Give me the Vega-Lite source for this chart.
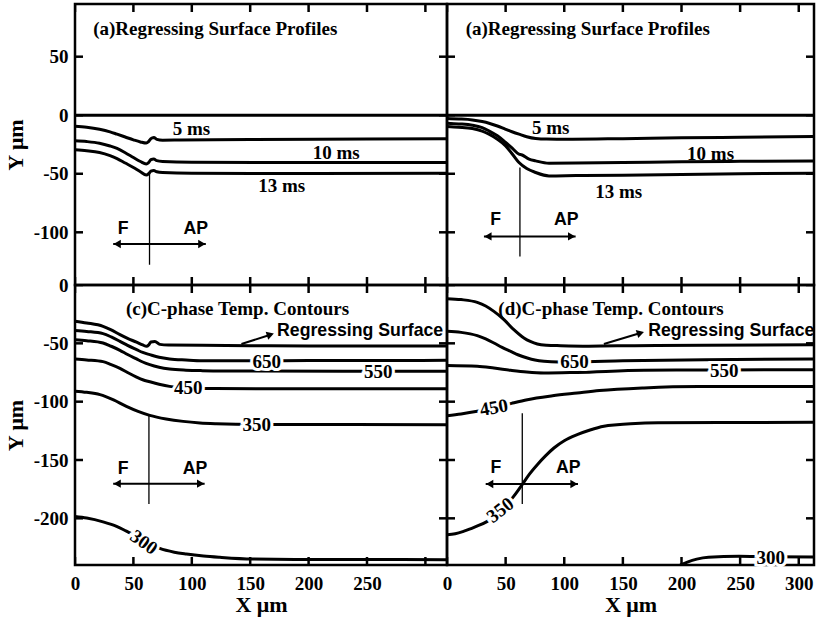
{
  "$schema": "https://vega.github.io/schema/vega-lite/v6.json",
  "background": "white",
  "padding": {"left": 2, "top": 2, "right": 0, "bottom": 0},
  "config": {
    "view": {"stroke": "black", "strokeWidth": 2.5},
    "concat": {"spacing": 0},
    "axis": {
      "domain": false,
      "grid": false,
      "ticks": false,
      "minExtent": 0,
      "labelFont": "Liberation Serif",
      "labelFontSize": 19,
      "labelFontWeight": "bold",
      "labelColor": "black",
      "labelPadding": 7,
      "labelFlush": false,
      "labelOverlap": false,
      "titleFont": "Liberation Serif",
      "titleFontSize": 22,
      "titleFontWeight": "bold",
      "titleColor": "black",
      "titlePadding": 6
    },
    "axisBottom": {"labelPadding": 9, "titlePadding": 1},
    "text": {"font": "Liberation Serif", "fontWeight": "bold", "fontSize": 19, "color": "black"},
    "tick": {"color": "black", "opacity": 1, "thickness": 2.5, "size": 16}
  },
  "datasets": {
    "curves": [
      {"panel": "a", "curve": "surface", "x": 0, "y": 0},
      {"panel": "a", "curve": "surface", "x": 318.5, "y": 0},
      {"panel": "a", "curve": "5 ms", "x": 0, "y": -9.5},
      {"panel": "a", "curve": "5 ms", "x": 10, "y": -10.3},
      {"panel": "a", "curve": "5 ms", "x": 21, "y": -12},
      {"panel": "a", "curve": "5 ms", "x": 30, "y": -14.2},
      {"panel": "a", "curve": "5 ms", "x": 36, "y": -16.2},
      {"panel": "a", "curve": "5 ms", "x": 43, "y": -18.6},
      {"panel": "a", "curve": "5 ms", "x": 50, "y": -21},
      {"panel": "a", "curve": "5 ms", "x": 56, "y": -22.8},
      {"panel": "a", "curve": "5 ms", "x": 61, "y": -23.8},
      {"panel": "a", "curve": "5 ms", "x": 63, "y": -22.5},
      {"panel": "a", "curve": "5 ms", "x": 65, "y": -20},
      {"panel": "a", "curve": "5 ms", "x": 67.5, "y": -19},
      {"panel": "a", "curve": "5 ms", "x": 70, "y": -20.6},
      {"panel": "a", "curve": "5 ms", "x": 75, "y": -21.3},
      {"panel": "a", "curve": "5 ms", "x": 90, "y": -21.2},
      {"panel": "a", "curve": "5 ms", "x": 150, "y": -20.8},
      {"panel": "a", "curve": "5 ms", "x": 250, "y": -20.3},
      {"panel": "a", "curve": "5 ms", "x": 318.5, "y": -20},
      {"panel": "a", "curve": "10 ms", "x": 0, "y": -21.9},
      {"panel": "a", "curve": "10 ms", "x": 10, "y": -22.5},
      {"panel": "a", "curve": "10 ms", "x": 21, "y": -23.9},
      {"panel": "a", "curve": "10 ms", "x": 30, "y": -26.3},
      {"panel": "a", "curve": "10 ms", "x": 36, "y": -28.4},
      {"panel": "a", "curve": "10 ms", "x": 43, "y": -32},
      {"panel": "a", "curve": "10 ms", "x": 50, "y": -36.1},
      {"panel": "a", "curve": "10 ms", "x": 56, "y": -39.5},
      {"panel": "a", "curve": "10 ms", "x": 61, "y": -41.6},
      {"panel": "a", "curve": "10 ms", "x": 63, "y": -40.5},
      {"panel": "a", "curve": "10 ms", "x": 65, "y": -38},
      {"panel": "a", "curve": "10 ms", "x": 67.5, "y": -37.4},
      {"panel": "a", "curve": "10 ms", "x": 70, "y": -38.8},
      {"panel": "a", "curve": "10 ms", "x": 75, "y": -39.5},
      {"panel": "a", "curve": "10 ms", "x": 100, "y": -40.2},
      {"panel": "a", "curve": "10 ms", "x": 200, "y": -40.4},
      {"panel": "a", "curve": "10 ms", "x": 318.5, "y": -40.4},
      {"panel": "a", "curve": "13 ms", "x": 0, "y": -29.5},
      {"panel": "a", "curve": "13 ms", "x": 10, "y": -30.3},
      {"panel": "a", "curve": "13 ms", "x": 21, "y": -31.8},
      {"panel": "a", "curve": "13 ms", "x": 30, "y": -34.5},
      {"panel": "a", "curve": "13 ms", "x": 36, "y": -37},
      {"panel": "a", "curve": "13 ms", "x": 43, "y": -40.8},
      {"panel": "a", "curve": "13 ms", "x": 50, "y": -44.6},
      {"panel": "a", "curve": "13 ms", "x": 56, "y": -48.3},
      {"panel": "a", "curve": "13 ms", "x": 61, "y": -51},
      {"panel": "a", "curve": "13 ms", "x": 63, "y": -50},
      {"panel": "a", "curve": "13 ms", "x": 65, "y": -47.8},
      {"panel": "a", "curve": "13 ms", "x": 67.5, "y": -47.2},
      {"panel": "a", "curve": "13 ms", "x": 70, "y": -48.3},
      {"panel": "a", "curve": "13 ms", "x": 75, "y": -49},
      {"panel": "a", "curve": "13 ms", "x": 100, "y": -49.6},
      {"panel": "a", "curve": "13 ms", "x": 200, "y": -49.7},
      {"panel": "a", "curve": "13 ms", "x": 318.5, "y": -49.5},

      {"panel": "b", "curve": "surface", "x": 0, "y": 0},
      {"panel": "b", "curve": "surface", "x": 313, "y": 0},
      {"panel": "b", "curve": "5 ms", "x": 0, "y": -2.8},
      {"panel": "b", "curve": "5 ms", "x": 10, "y": -3.2},
      {"panel": "b", "curve": "5 ms", "x": 21.6, "y": -4},
      {"panel": "b", "curve": "5 ms", "x": 30, "y": -5.4},
      {"panel": "b", "curve": "5 ms", "x": 35.8, "y": -6.8},
      {"panel": "b", "curve": "5 ms", "x": 43, "y": -9.2},
      {"panel": "b", "curve": "5 ms", "x": 50, "y": -12},
      {"panel": "b", "curve": "5 ms", "x": 56, "y": -14.3},
      {"panel": "b", "curve": "5 ms", "x": 61.4, "y": -16.2},
      {"panel": "b", "curve": "5 ms", "x": 68, "y": -18.4},
      {"panel": "b", "curve": "5 ms", "x": 75.6, "y": -19.9},
      {"panel": "b", "curve": "5 ms", "x": 85, "y": -20.4},
      {"panel": "b", "curve": "5 ms", "x": 107, "y": -20.5},
      {"panel": "b", "curve": "5 ms", "x": 150, "y": -20},
      {"panel": "b", "curve": "5 ms", "x": 200, "y": -19.3},
      {"panel": "b", "curve": "5 ms", "x": 250, "y": -18.8},
      {"panel": "b", "curve": "5 ms", "x": 313, "y": -18.2},
      {"panel": "b", "curve": "10 ms", "x": 0, "y": -6.8},
      {"panel": "b", "curve": "10 ms", "x": 10, "y": -7.4},
      {"panel": "b", "curve": "10 ms", "x": 21.6, "y": -8.5},
      {"panel": "b", "curve": "10 ms", "x": 30, "y": -10.6},
      {"panel": "b", "curve": "10 ms", "x": 35.8, "y": -13.4},
      {"panel": "b", "curve": "10 ms", "x": 43, "y": -17.6},
      {"panel": "b", "curve": "10 ms", "x": 50, "y": -23.3},
      {"panel": "b", "curve": "10 ms", "x": 56, "y": -28.5},
      {"panel": "b", "curve": "10 ms", "x": 61.4, "y": -33.3},
      {"panel": "b", "curve": "10 ms", "x": 63.5, "y": -33.8},
      {"panel": "b", "curve": "10 ms", "x": 70, "y": -37.5},
      {"panel": "b", "curve": "10 ms", "x": 75.6, "y": -39},
      {"panel": "b", "curve": "10 ms", "x": 87, "y": -41},
      {"panel": "b", "curve": "10 ms", "x": 110, "y": -40.8},
      {"panel": "b", "curve": "10 ms", "x": 150, "y": -40.4},
      {"panel": "b", "curve": "10 ms", "x": 200, "y": -39.8},
      {"panel": "b", "curve": "10 ms", "x": 250, "y": -39.4},
      {"panel": "b", "curve": "10 ms", "x": 313, "y": -39},
      {"panel": "b", "curve": "13 ms", "x": 0, "y": -9.7},
      {"panel": "b", "curve": "13 ms", "x": 10, "y": -10.3},
      {"panel": "b", "curve": "13 ms", "x": 21.6, "y": -11.4},
      {"panel": "b", "curve": "13 ms", "x": 30, "y": -13.6},
      {"panel": "b", "curve": "13 ms", "x": 35.8, "y": -16.2},
      {"panel": "b", "curve": "13 ms", "x": 43, "y": -20.5},
      {"panel": "b", "curve": "13 ms", "x": 50, "y": -26.2},
      {"panel": "b", "curve": "13 ms", "x": 56, "y": -33.5},
      {"panel": "b", "curve": "13 ms", "x": 61.4, "y": -40.4},
      {"panel": "b", "curve": "13 ms", "x": 68, "y": -45.5},
      {"panel": "b", "curve": "13 ms", "x": 75.6, "y": -48.9},
      {"panel": "b", "curve": "13 ms", "x": 87, "y": -51.8},
      {"panel": "b", "curve": "13 ms", "x": 110, "y": -51.5},
      {"panel": "b", "curve": "13 ms", "x": 150, "y": -51.2},
      {"panel": "b", "curve": "13 ms", "x": 200, "y": -50.6},
      {"panel": "b", "curve": "13 ms", "x": 250, "y": -50},
      {"panel": "b", "curve": "13 ms", "x": 313, "y": -49.5},

      {"panel": "c", "curve": "surface", "x": 0, "y": -31},
      {"panel": "c", "curve": "surface", "x": 10, "y": -32.5},
      {"panel": "c", "curve": "surface", "x": 24, "y": -35.4},
      {"panel": "c", "curve": "surface", "x": 31, "y": -38.5},
      {"panel": "c", "curve": "surface", "x": 38.5, "y": -42.6},
      {"panel": "c", "curve": "surface", "x": 45, "y": -45.8},
      {"panel": "c", "curve": "surface", "x": 52.7, "y": -49},
      {"panel": "c", "curve": "surface", "x": 58, "y": -51.4},
      {"panel": "c", "curve": "surface", "x": 61.3, "y": -52.6},
      {"panel": "c", "curve": "surface", "x": 63.2, "y": -51.3},
      {"panel": "c", "curve": "surface", "x": 65, "y": -48.9},
      {"panel": "c", "curve": "surface", "x": 68.4, "y": -48.4},
      {"panel": "c", "curve": "surface", "x": 72.6, "y": -50.9},
      {"panel": "c", "curve": "surface", "x": 80, "y": -51.4},
      {"panel": "c", "curve": "surface", "x": 109, "y": -51.6},
      {"panel": "c", "curve": "surface", "x": 150, "y": -52},
      {"panel": "c", "curve": "surface", "x": 200, "y": -52.2},
      {"panel": "c", "curve": "surface", "x": 318.5, "y": -52.2},
      {"panel": "c", "curve": "650", "x": 0, "y": -38.9},
      {"panel": "c", "curve": "650", "x": 10, "y": -39.8},
      {"panel": "c", "curve": "650", "x": 24, "y": -41.7},
      {"panel": "c", "curve": "650", "x": 31, "y": -44.5},
      {"panel": "c", "curve": "650", "x": 38.5, "y": -48.3},
      {"panel": "c", "curve": "650", "x": 45, "y": -51.8},
      {"panel": "c", "curve": "650", "x": 52.7, "y": -55.4},
      {"panel": "c", "curve": "650", "x": 58, "y": -57.8},
      {"panel": "c", "curve": "650", "x": 64, "y": -59.7},
      {"panel": "c", "curve": "650", "x": 72, "y": -62},
      {"panel": "c", "curve": "650", "x": 81, "y": -63.4},
      {"panel": "c", "curve": "650", "x": 95, "y": -64.3},
      {"panel": "c", "curve": "650", "x": 109, "y": -64.9},
      {"panel": "c", "curve": "650", "x": 150, "y": -65},
      {"panel": "c", "curve": "650", "x": 200, "y": -64.8},
      {"panel": "c", "curve": "650", "x": 318.5, "y": -64.6},
      {"panel": "c", "curve": "550", "x": 0, "y": -46.9},
      {"panel": "c", "curve": "550", "x": 10, "y": -47.7},
      {"panel": "c", "curve": "550", "x": 24, "y": -49.7},
      {"panel": "c", "curve": "550", "x": 31, "y": -52.5},
      {"panel": "c", "curve": "550", "x": 38.5, "y": -56},
      {"panel": "c", "curve": "550", "x": 45, "y": -59.6},
      {"panel": "c", "curve": "550", "x": 52.7, "y": -63.4},
      {"panel": "c", "curve": "550", "x": 58, "y": -66},
      {"panel": "c", "curve": "550", "x": 64, "y": -68.3},
      {"panel": "c", "curve": "550", "x": 72, "y": -70.5},
      {"panel": "c", "curve": "550", "x": 81, "y": -72},
      {"panel": "c", "curve": "550", "x": 95, "y": -73},
      {"panel": "c", "curve": "550", "x": 109, "y": -73.4},
      {"panel": "c", "curve": "550", "x": 150, "y": -73.8},
      {"panel": "c", "curve": "550", "x": 318.5, "y": -74},
      {"panel": "c", "curve": "450", "x": 0, "y": -63.4},
      {"panel": "c", "curve": "450", "x": 10, "y": -64.2},
      {"panel": "c", "curve": "450", "x": 24, "y": -65.7},
      {"panel": "c", "curve": "450", "x": 31, "y": -68.2},
      {"panel": "c", "curve": "450", "x": 38.5, "y": -71.4},
      {"panel": "c", "curve": "450", "x": 45, "y": -75},
      {"panel": "c", "curve": "450", "x": 52.7, "y": -78.9},
      {"panel": "c", "curve": "450", "x": 58, "y": -81.2},
      {"panel": "c", "curve": "450", "x": 64, "y": -82.9},
      {"panel": "c", "curve": "450", "x": 72, "y": -85},
      {"panel": "c", "curve": "450", "x": 81, "y": -86.9},
      {"panel": "c", "curve": "450", "x": 97, "y": -88.3},
      {"panel": "c", "curve": "450", "x": 120, "y": -88.8},
      {"panel": "c", "curve": "450", "x": 318.5, "y": -89},
      {"panel": "c", "curve": "350", "x": 0, "y": -91},
      {"panel": "c", "curve": "350", "x": 10, "y": -92},
      {"panel": "c", "curve": "350", "x": 21.4, "y": -94},
      {"panel": "c", "curve": "350", "x": 33, "y": -98.5},
      {"panel": "c", "curve": "350", "x": 44, "y": -104},
      {"panel": "c", "curve": "350", "x": 54, "y": -108.3},
      {"panel": "c", "curve": "350", "x": 64, "y": -111.7},
      {"panel": "c", "curve": "350", "x": 78, "y": -114.8},
      {"panel": "c", "curve": "350", "x": 92.6, "y": -116.9},
      {"panel": "c", "curve": "350", "x": 107, "y": -118.2},
      {"panel": "c", "curve": "350", "x": 121, "y": -118.9},
      {"panel": "c", "curve": "350", "x": 155, "y": -119.6},
      {"panel": "c", "curve": "350", "x": 318.5, "y": -119.7},
      {"panel": "c", "curve": "300", "x": 0, "y": -198.5},
      {"panel": "c", "curve": "300", "x": 10, "y": -199.8},
      {"panel": "c", "curve": "300", "x": 24, "y": -203},
      {"panel": "c", "curve": "300", "x": 35.6, "y": -206.8},
      {"panel": "c", "curve": "300", "x": 44, "y": -211},
      {"panel": "c", "curve": "300", "x": 50, "y": -214},
      {"panel": "c", "curve": "300", "x": 59, "y": -219.5},
      {"panel": "c", "curve": "300", "x": 66, "y": -223},
      {"panel": "c", "curve": "300", "x": 72.6, "y": -225.8},
      {"panel": "c", "curve": "300", "x": 85, "y": -229},
      {"panel": "c", "curve": "300", "x": 95.4, "y": -230.6},
      {"panel": "c", "curve": "300", "x": 110, "y": -232.3},
      {"panel": "c", "curve": "300", "x": 124, "y": -233.4},
      {"panel": "c", "curve": "300", "x": 152, "y": -234.9},
      {"panel": "c", "curve": "300", "x": 200, "y": -235.3},
      {"panel": "c", "curve": "300", "x": 318.5, "y": -235.4},

      {"panel": "d", "curve": "surface", "x": 0, "y": -11.7},
      {"panel": "d", "curve": "surface", "x": 12, "y": -12.5},
      {"panel": "d", "curve": "surface", "x": 25.8, "y": -14.9},
      {"panel": "d", "curve": "surface", "x": 33, "y": -18},
      {"panel": "d", "curve": "surface", "x": 40, "y": -22.6},
      {"panel": "d", "curve": "surface", "x": 48.6, "y": -29.7},
      {"panel": "d", "curve": "surface", "x": 57, "y": -38.3},
      {"panel": "d", "curve": "surface", "x": 65.6, "y": -45.4},
      {"panel": "d", "curve": "surface", "x": 71, "y": -48.4},
      {"panel": "d", "curve": "surface", "x": 77, "y": -50.6},
      {"panel": "d", "curve": "surface", "x": 85, "y": -51.6},
      {"panel": "d", "curve": "surface", "x": 97, "y": -52},
      {"panel": "d", "curve": "surface", "x": 121, "y": -52.4},
      {"panel": "d", "curve": "surface", "x": 160, "y": -52},
      {"panel": "d", "curve": "surface", "x": 220, "y": -51.6},
      {"panel": "d", "curve": "surface", "x": 313, "y": -51.3},
      {"panel": "d", "curve": "650", "x": 0, "y": -39.7},
      {"panel": "d", "curve": "650", "x": 12, "y": -40.6},
      {"panel": "d", "curve": "650", "x": 25.8, "y": -43.4},
      {"panel": "d", "curve": "650", "x": 33, "y": -46.2},
      {"panel": "d", "curve": "650", "x": 40, "y": -49.7},
      {"panel": "d", "curve": "650", "x": 47, "y": -53.5},
      {"panel": "d", "curve": "650", "x": 54.3, "y": -56.9},
      {"panel": "d", "curve": "650", "x": 61, "y": -60},
      {"panel": "d", "curve": "650", "x": 68.5, "y": -62.6},
      {"panel": "d", "curve": "650", "x": 75, "y": -64.3},
      {"panel": "d", "curve": "650", "x": 82.7, "y": -65.4},
      {"panel": "d", "curve": "650", "x": 95, "y": -66},
      {"panel": "d", "curve": "650", "x": 108, "y": -66},
      {"panel": "d", "curve": "650", "x": 150, "y": -65},
      {"panel": "d", "curve": "650", "x": 220, "y": -64},
      {"panel": "d", "curve": "650", "x": 313, "y": -63.4},
      {"panel": "d", "curve": "550", "x": 0, "y": -69.1},
      {"panel": "d", "curve": "550", "x": 25.8, "y": -69.7},
      {"panel": "d", "curve": "550", "x": 40, "y": -71.2},
      {"panel": "d", "curve": "550", "x": 54.3, "y": -73.1},
      {"panel": "d", "curve": "550", "x": 68, "y": -74.6},
      {"panel": "d", "curve": "550", "x": 82.7, "y": -75.4},
      {"panel": "d", "curve": "550", "x": 111, "y": -74.9},
      {"panel": "d", "curve": "550", "x": 168, "y": -73.1},
      {"panel": "d", "curve": "550", "x": 236, "y": -72.8},
      {"panel": "d", "curve": "550", "x": 313, "y": -72.6},
      {"panel": "d", "curve": "450", "x": 0, "y": -112},
      {"panel": "d", "curve": "450", "x": 12, "y": -110.5},
      {"panel": "d", "curve": "450", "x": 25.8, "y": -108.3},
      {"panel": "d", "curve": "450", "x": 40, "y": -105.4},
      {"panel": "d", "curve": "450", "x": 55, "y": -101.5},
      {"panel": "d", "curve": "450", "x": 68.5, "y": -98.3},
      {"panel": "d", "curve": "450", "x": 90, "y": -95},
      {"panel": "d", "curve": "450", "x": 111, "y": -92.6},
      {"panel": "d", "curve": "450", "x": 130, "y": -90.5},
      {"panel": "d", "curve": "450", "x": 168, "y": -88.2},
      {"panel": "d", "curve": "450", "x": 215, "y": -87},
      {"panel": "d", "curve": "450", "x": 313, "y": -86.9},
      {"panel": "d", "curve": "350", "x": 0, "y": -214},
      {"panel": "d", "curve": "350", "x": 7, "y": -213.2},
      {"panel": "d", "curve": "350", "x": 14.5, "y": -211},
      {"panel": "d", "curve": "350", "x": 24, "y": -207.3},
      {"panel": "d", "curve": "350", "x": 34.4, "y": -202.6},
      {"panel": "d", "curve": "350", "x": 45.8, "y": -194},
      {"panel": "d", "curve": "350", "x": 57, "y": -181},
      {"panel": "d", "curve": "350", "x": 64.2, "y": -171},
      {"panel": "d", "curve": "350", "x": 70, "y": -162.5},
      {"panel": "d", "curve": "350", "x": 77, "y": -154},
      {"panel": "d", "curve": "350", "x": 84, "y": -146.5},
      {"panel": "d", "curve": "350", "x": 91.2, "y": -139.7},
      {"panel": "d", "curve": "350", "x": 100, "y": -133.5},
      {"panel": "d", "curve": "350", "x": 111, "y": -128.3},
      {"panel": "d", "curve": "350", "x": 122, "y": -124.3},
      {"panel": "d", "curve": "350", "x": 133.8, "y": -121.1},
      {"panel": "d", "curve": "350", "x": 145, "y": -119.8},
      {"panel": "d", "curve": "350", "x": 156.6, "y": -118.9},
      {"panel": "d", "curve": "350", "x": 180, "y": -118},
      {"panel": "d", "curve": "350", "x": 250, "y": -117.8},
      {"panel": "d", "curve": "350", "x": 313, "y": -117.7},
      {"panel": "d", "curve": "300", "x": 199, "y": -240},
      {"panel": "d", "curve": "300", "x": 205, "y": -237.5},
      {"panel": "d", "curve": "300", "x": 213, "y": -235},
      {"panel": "d", "curve": "300", "x": 223, "y": -233.4},
      {"panel": "d", "curve": "300", "x": 249, "y": -232.6},
      {"panel": "d", "curve": "300", "x": 276, "y": -233},
      {"panel": "d", "curve": "300", "x": 313, "y": -233.1}
    ],
    "xTicks": [
      {"panel": "a", "v": 0}, {"panel": "a", "v": 50}, {"panel": "a", "v": 100}, {"panel": "a", "v": 150}, {"panel": "a", "v": 200}, {"panel": "a", "v": 250}, {"panel": "a", "v": 300},
      {"panel": "b", "v": 0}, {"panel": "b", "v": 50}, {"panel": "b", "v": 100}, {"panel": "b", "v": 150}, {"panel": "b", "v": 200}, {"panel": "b", "v": 250}, {"panel": "b", "v": 300},
      {"panel": "c", "v": 0}, {"panel": "c", "v": 50}, {"panel": "c", "v": 100}, {"panel": "c", "v": 150}, {"panel": "c", "v": 200}, {"panel": "c", "v": 250}, {"panel": "c", "v": 300},
      {"panel": "d", "v": 0}, {"panel": "d", "v": 50}, {"panel": "d", "v": 100}, {"panel": "d", "v": 150}, {"panel": "d", "v": 200}, {"panel": "d", "v": 250}, {"panel": "d", "v": 300}
    ],
    "yTicks": [
      {"panel": "a", "v": 50}, {"panel": "a", "v": 0}, {"panel": "a", "v": -50}, {"panel": "a", "v": -100},
      {"panel": "b", "v": 50}, {"panel": "b", "v": 0}, {"panel": "b", "v": -50}, {"panel": "b", "v": -100},
      {"panel": "c", "v": 0}, {"panel": "c", "v": -50}, {"panel": "c", "v": -100}, {"panel": "c", "v": -150}, {"panel": "c", "v": -200},
      {"panel": "d", "v": 0}, {"panel": "d", "v": -50}, {"panel": "d", "v": -100}, {"panel": "d", "v": -150}, {"panel": "d", "v": -200}
    ],
    "titles": [
      {"panel": "a", "x": 15.6, "y": 74, "text": "(a)Regressing Surface Profiles"},
      {"panel": "b", "x": 15.9, "y": 74, "text": "(a)Regressing Surface Profiles"},
      {"panel": "c", "x": 43.6, "y": -20.3, "text": "(c)C-phase Temp. Contours"},
      {"panel": "d", "x": 43.8, "y": -20.3, "text": "(d)C-phase Temp. Contours"}
    ],
    "timeLabels": [
      {"panel": "a", "x": 99.7, "y": -12, "text": "5 ms"},
      {"panel": "a", "x": 223.7, "y": -32.2, "text": "10 ms"},
      {"panel": "a", "x": 177, "y": -60.7, "text": "13 ms"},
      {"panel": "b", "x": 88.4, "y": -10.5, "text": "5 ms"},
      {"panel": "b", "x": 224.8, "y": -33.3, "text": "10 ms"},
      {"panel": "b", "x": 146.4, "y": -65.3, "text": "13 ms"}
    ],
    "contourLabels": [
      {"panel": "c", "x": 164.2, "y": -65.6, "text": "650"},
      {"panel": "c", "x": 259.7, "y": -74.4, "text": "550"},
      {"panel": "c", "x": 96.9, "y": -88.4, "text": "450"},
      {"panel": "c", "x": 155.6, "y": -120, "text": "350"},
      {"panel": "d", "x": 108.8, "y": -66.3, "text": "650"},
      {"panel": "d", "x": 236.4, "y": -73.6, "text": "550"},
      {"panel": "d", "x": 276.2, "y": -233.6, "text": "300"}
    ],
    "tiltedLabels": [
      {"panel": "c", "x": 59, "y": -220.5, "text": "300"},
      {"panel": "d", "x": 40, "y": -105.2, "text": "450"},
      {"panel": "d", "x": 45.5, "y": -193, "text": "350"}
    ],
    "directionLabels": [
      {"panel": "a", "x": 41.3, "y": -96.8, "text": "F"},
      {"panel": "a", "x": 103.4, "y": -96.8, "text": "AP"},
      {"panel": "b", "x": 41.5, "y": -89.3, "text": "F"},
      {"panel": "b", "x": 101.7, "y": -89.3, "text": "AP"},
      {"panel": "c", "x": 41.3, "y": -157.4, "text": "F"},
      {"panel": "c", "x": 102.8, "y": -157.4, "text": "AP"},
      {"panel": "d", "x": 41.8, "y": -157.1, "text": "F"},
      {"panel": "d", "x": 103.4, "y": -157.1, "text": "AP"}
    ],
    "surfaceLabels": [
      {"panel": "c", "x": 173, "y": -39.7, "text": "Regressing Surface"},
      {"panel": "d", "x": 171.6, "y": -39.7, "text": "Regressing Surface"}
    ],
    "guides": [
      {"panel": "a", "x": 63.8, "y": -48.9, "y2": -127.7},
      {"panel": "b", "x": 62.2, "y": -44.6, "y2": -120.6},
      {"panel": "c", "x": 63.3, "y": -111, "y2": -187.7},
      {"panel": "d", "x": 64.2, "y": -110, "y2": -187.7}
    ],
    "arrows": [
      {"panel": "a", "x": 32.7, "x2": 112, "y": -110},
      {"panel": "b", "x": 31.5, "x2": 109.7, "y": -103.5},
      {"panel": "c", "x": 32.7, "x2": 111, "y": -170.3},
      {"panel": "d", "x": 33, "x2": 111.7, "y": -170.6}
    ],
    "pointers": [
      {"panel": "c", "x": 142.5, "y": -50.6, "x2": 167.3, "y2": -42.6},
      {"panel": "d", "x": 133.8, "y": -50.6, "x2": 165, "y2": -41.1}
    ]
  },
  "columns": 2,
  "spacing": 0,
  "bounds": "flush",
  "concat": [
    {
      "width": 372,
      "height": 281,
      "layer": [
        {
          "data": {"name": "curves"},
          "transform": [{"filter": "datum.panel == 'a'"}],
          "mark": {"type": "line", "color": "black", "strokeWidth": 3, "interpolate": "monotone"},
          "encoding": {
            "x": {"field": "x", "type": "quantitative", "scale": {"domain": [0, 318.5], "nice": false, "zero": false}, "axis": null},
            "y": {"field": "y", "type": "quantitative", "scale": {"domain": [-145, 95], "nice": false, "zero": false},
                  "axis": {"orient": "left", "values": [50, 0, -50, -100], "labelExpr": "replace(datum.label, '\u2212', '-')", "title": "Y μm"}},
            "detail": {"field": "curve"}
          }
        },
        {
          "data": {"name": "xTicks"},
          "transform": [{"filter": "datum.panel == 'a'"}],
          "mark": {"type": "tick", "orient": "vertical", "clip": true},
          "encoding": {"x": {"field": "v", "type": "quantitative", "axis": null}, "y": {"datum": 95, "type": "quantitative"}}
        },
        {
          "data": {"name": "xTicks"},
          "transform": [{"filter": "datum.panel == 'a'"}],
          "mark": {"type": "tick", "orient": "vertical", "clip": true},
          "encoding": {"x": {"field": "v", "type": "quantitative", "axis": null}, "y": {"datum": -145, "type": "quantitative"}}
        },
        {
          "data": {"name": "yTicks"},
          "transform": [{"filter": "datum.panel == 'a'"}],
          "mark": {"type": "tick", "orient": "horizontal", "clip": true},
          "encoding": {"y": {"field": "v", "type": "quantitative"}, "x": {"datum": 0, "type": "quantitative", "axis": null}}
        },
        {
          "data": {"name": "yTicks"},
          "transform": [{"filter": "datum.panel == 'a'"}],
          "mark": {"type": "tick", "orient": "horizontal", "clip": true},
          "encoding": {"y": {"field": "v", "type": "quantitative"}, "x": {"datum": 318.5, "type": "quantitative", "axis": null}}
        },
        {
          "data": {"name": "guides"},
          "transform": [{"filter": "datum.panel == 'a'"}],
          "mark": {"type": "rule", "color": "black", "strokeWidth": 1.3},
          "encoding": {
            "x": {"field": "x", "type": "quantitative", "axis": null},
            "y": {"field": "y", "type": "quantitative"},
            "y2": {"field": "y2"}
          }
        },
        {
          "data": {"name": "arrows"},
          "transform": [{"filter": "datum.panel == 'a'"}],
          "mark": {"type": "rule", "color": "black", "strokeWidth": 2},
          "encoding": {
            "x": {"field": "x", "type": "quantitative", "axis": null},
            "x2": {"field": "x2"},
            "y": {"field": "y", "type": "quantitative"}
          }
        },
        {
          "data": {"name": "arrows"},
          "transform": [{"filter": "datum.panel == 'a'"}],
          "mark": {"type": "point", "shape": "triangle-left", "filled": true, "color": "black", "size": 70, "opacity": 1, "xOffset": 4},
          "encoding": {
            "x": {"field": "x", "type": "quantitative", "axis": null},
            "y": {"field": "y", "type": "quantitative"}
          }
        },
        {
          "data": {"name": "arrows"},
          "transform": [{"filter": "datum.panel == 'a'"}],
          "mark": {"type": "point", "shape": "triangle-right", "filled": true, "color": "black", "size": 70, "opacity": 1, "xOffset": -4},
          "encoding": {
            "x": {"field": "x2", "type": "quantitative", "axis": null},
            "y": {"field": "y", "type": "quantitative"}
          }
        },
        {
          "data": {"name": "timeLabels"},
          "transform": [{"filter": "datum.panel == 'a'"}],
          "mark": {"type": "text", "align": "center", "baseline": "middle"},
          "encoding": {
            "x": {"field": "x", "type": "quantitative", "axis": null},
            "y": {"field": "y", "type": "quantitative"},
            "text": {"field": "text"}
          }
        },
        {
          "data": {"name": "titles"},
          "transform": [{"filter": "datum.panel == 'a'"}],
          "mark": {"type": "text", "align": "left", "baseline": "middle"},
          "encoding": {
            "x": {"field": "x", "type": "quantitative", "axis": null},
            "y": {"field": "y", "type": "quantitative"},
            "text": {"field": "text"}
          }
        },
        {
          "data": {"name": "directionLabels"},
          "transform": [{"filter": "datum.panel == 'a'"}],
          "mark": {"type": "text", "align": "center", "baseline": "middle", "font": "Liberation Sans", "fontSize": 17.7},
          "encoding": {
            "x": {"field": "x", "type": "quantitative", "axis": null},
            "y": {"field": "y", "type": "quantitative"},
            "text": {"field": "text"}
          }
        }
      ]
    },
    {
      "width": 367,
      "height": 281,
      "layer": [
        {
          "data": {"name": "curves"},
          "transform": [{"filter": "datum.panel == 'b'"}],
          "mark": {"type": "line", "color": "black", "strokeWidth": 3, "interpolate": "monotone"},
          "encoding": {
            "x": {"field": "x", "type": "quantitative", "scale": {"domain": [0, 313], "nice": false, "zero": false}, "axis": null},
            "y": {"field": "y", "type": "quantitative", "scale": {"domain": [-145, 95], "nice": false, "zero": false}, "axis": null},
            "detail": {"field": "curve"}
          }
        },
        {
          "data": {"name": "xTicks"},
          "transform": [{"filter": "datum.panel == 'b'"}],
          "mark": {"type": "tick", "orient": "vertical", "clip": true},
          "encoding": {"x": {"field": "v", "type": "quantitative", "axis": null}, "y": {"datum": 95, "type": "quantitative", "axis": null}}
        },
        {
          "data": {"name": "xTicks"},
          "transform": [{"filter": "datum.panel == 'b'"}],
          "mark": {"type": "tick", "orient": "vertical", "clip": true},
          "encoding": {"x": {"field": "v", "type": "quantitative", "axis": null}, "y": {"datum": -145, "type": "quantitative", "axis": null}}
        },
        {
          "data": {"name": "yTicks"},
          "transform": [{"filter": "datum.panel == 'b'"}],
          "mark": {"type": "tick", "orient": "horizontal", "clip": true},
          "encoding": {"y": {"field": "v", "type": "quantitative", "axis": null}, "x": {"datum": 0, "type": "quantitative", "axis": null}}
        },
        {
          "data": {"name": "yTicks"},
          "transform": [{"filter": "datum.panel == 'b'"}],
          "mark": {"type": "tick", "orient": "horizontal", "clip": true},
          "encoding": {"y": {"field": "v", "type": "quantitative", "axis": null}, "x": {"datum": 313, "type": "quantitative", "axis": null}}
        },
        {
          "data": {"name": "guides"},
          "transform": [{"filter": "datum.panel == 'b'"}],
          "mark": {"type": "rule", "color": "black", "strokeWidth": 1.3},
          "encoding": {
            "x": {"field": "x", "type": "quantitative", "axis": null},
            "y": {"field": "y", "type": "quantitative", "axis": null},
            "y2": {"field": "y2"}
          }
        },
        {
          "data": {"name": "arrows"},
          "transform": [{"filter": "datum.panel == 'b'"}],
          "mark": {"type": "rule", "color": "black", "strokeWidth": 2},
          "encoding": {
            "x": {"field": "x", "type": "quantitative", "axis": null},
            "x2": {"field": "x2"},
            "y": {"field": "y", "type": "quantitative", "axis": null}
          }
        },
        {
          "data": {"name": "arrows"},
          "transform": [{"filter": "datum.panel == 'b'"}],
          "mark": {"type": "point", "shape": "triangle-left", "filled": true, "color": "black", "size": 70, "opacity": 1, "xOffset": 4},
          "encoding": {
            "x": {"field": "x", "type": "quantitative", "axis": null},
            "y": {"field": "y", "type": "quantitative", "axis": null}
          }
        },
        {
          "data": {"name": "arrows"},
          "transform": [{"filter": "datum.panel == 'b'"}],
          "mark": {"type": "point", "shape": "triangle-right", "filled": true, "color": "black", "size": 70, "opacity": 1, "xOffset": -4},
          "encoding": {
            "x": {"field": "x2", "type": "quantitative", "axis": null},
            "y": {"field": "y", "type": "quantitative", "axis": null}
          }
        },
        {
          "data": {"name": "timeLabels"},
          "transform": [{"filter": "datum.panel == 'b'"}],
          "mark": {"type": "text", "align": "center", "baseline": "middle"},
          "encoding": {
            "x": {"field": "x", "type": "quantitative", "axis": null},
            "y": {"field": "y", "type": "quantitative", "axis": null},
            "text": {"field": "text"}
          }
        },
        {
          "data": {"name": "titles"},
          "transform": [{"filter": "datum.panel == 'b'"}],
          "mark": {"type": "text", "align": "left", "baseline": "middle"},
          "encoding": {
            "x": {"field": "x", "type": "quantitative", "axis": null},
            "y": {"field": "y", "type": "quantitative", "axis": null},
            "text": {"field": "text"}
          }
        },
        {
          "data": {"name": "directionLabels"},
          "transform": [{"filter": "datum.panel == 'b'"}],
          "mark": {"type": "text", "align": "center", "baseline": "middle", "font": "Liberation Sans", "fontSize": 17.7},
          "encoding": {
            "x": {"field": "x", "type": "quantitative", "axis": null},
            "y": {"field": "y", "type": "quantitative", "axis": null},
            "text": {"field": "text"}
          }
        }
      ]
    },
    {
      "width": 372,
      "height": 280,
      "layer": [
        {
          "data": {"name": "curves"},
          "transform": [{"filter": "datum.panel == 'c'"}],
          "mark": {"type": "line", "color": "black", "strokeWidth": 3, "interpolate": "monotone"},
          "encoding": {
            "x": {"field": "x", "type": "quantitative", "scale": {"domain": [0, 318.5], "nice": false, "zero": false},
                  "axis": {"orient": "bottom", "values": [0, 50, 100, 150, 200, 250, 300], "labelExpr": "datum.value == 300 ? '' : datum.label", "title": "X μm"}},
            "y": {"field": "y", "type": "quantitative", "scale": {"domain": [-240, 0], "nice": false, "zero": false},
                  "axis": {"orient": "left", "values": [0, -50, -100, -150, -200], "labelExpr": "replace(datum.label, '\u2212', '-')", "title": "Y μm"}},
            "detail": {"field": "curve"}
          }
        },
        {
          "data": {"name": "xTicks"},
          "transform": [{"filter": "datum.panel == 'c'"}],
          "mark": {"type": "tick", "orient": "vertical", "clip": true},
          "encoding": {"x": {"field": "v", "type": "quantitative"}, "y": {"datum": 0, "type": "quantitative"}}
        },
        {
          "data": {"name": "xTicks"},
          "transform": [{"filter": "datum.panel == 'c'"}],
          "mark": {"type": "tick", "orient": "vertical", "clip": true},
          "encoding": {"x": {"field": "v", "type": "quantitative"}, "y": {"datum": -240, "type": "quantitative"}}
        },
        {
          "data": {"name": "yTicks"},
          "transform": [{"filter": "datum.panel == 'c'"}],
          "mark": {"type": "tick", "orient": "horizontal", "clip": true},
          "encoding": {"y": {"field": "v", "type": "quantitative"}, "x": {"datum": 0, "type": "quantitative"}}
        },
        {
          "data": {"name": "yTicks"},
          "transform": [{"filter": "datum.panel == 'c'"}],
          "mark": {"type": "tick", "orient": "horizontal", "clip": true},
          "encoding": {"y": {"field": "v", "type": "quantitative"}, "x": {"datum": 318.5, "type": "quantitative"}}
        },
        {
          "data": {"name": "guides"},
          "transform": [{"filter": "datum.panel == 'c'"}],
          "mark": {"type": "rule", "color": "black", "strokeWidth": 1.3},
          "encoding": {
            "x": {"field": "x", "type": "quantitative"},
            "y": {"field": "y", "type": "quantitative"},
            "y2": {"field": "y2"}
          }
        },
        {
          "data": {"name": "arrows"},
          "transform": [{"filter": "datum.panel == 'c'"}],
          "mark": {"type": "rule", "color": "black", "strokeWidth": 2},
          "encoding": {
            "x": {"field": "x", "type": "quantitative"},
            "x2": {"field": "x2"},
            "y": {"field": "y", "type": "quantitative"}
          }
        },
        {
          "data": {"name": "arrows"},
          "transform": [{"filter": "datum.panel == 'c'"}],
          "mark": {"type": "point", "shape": "triangle-left", "filled": true, "color": "black", "size": 70, "opacity": 1, "xOffset": 4},
          "encoding": {
            "x": {"field": "x", "type": "quantitative"},
            "y": {"field": "y", "type": "quantitative"}
          }
        },
        {
          "data": {"name": "arrows"},
          "transform": [{"filter": "datum.panel == 'c'"}],
          "mark": {"type": "point", "shape": "triangle-right", "filled": true, "color": "black", "size": 70, "opacity": 1, "xOffset": -4},
          "encoding": {
            "x": {"field": "x2", "type": "quantitative"},
            "y": {"field": "y", "type": "quantitative"}
          }
        },
        {
          "data": {"name": "pointers"},
          "transform": [{"filter": "datum.panel == 'c'"}],
          "mark": {"type": "rule", "color": "black", "strokeWidth": 2},
          "encoding": {
            "x": {"field": "x", "type": "quantitative"},
            "y": {"field": "y", "type": "quantitative"},
            "x2": {"field": "x2"},
            "y2": {"field": "y2"}
          }
        },
        {
          "data": {"name": "pointers"},
          "transform": [{"filter": "datum.panel == 'c'"}],
          "mark": {"type": "point", "shape": "triangle-right", "filled": true, "color": "black", "size": 70, "opacity": 1, "angle": -18},
          "encoding": {
            "x": {"field": "x2", "type": "quantitative"},
            "y": {"field": "y2", "type": "quantitative"}
          }
        },
        {
          "data": {"name": "contourLabels"},
          "transform": [{"filter": "datum.panel == 'c'"}],
          "mark": {"type": "text", "align": "center", "baseline": "middle", "stroke": "white", "strokeWidth": 6, "color": "white"},
          "encoding": {
            "x": {"field": "x", "type": "quantitative"},
            "y": {"field": "y", "type": "quantitative"},
            "text": {"field": "text"}
          }
        },
        {
          "data": {"name": "contourLabels"},
          "transform": [{"filter": "datum.panel == 'c'"}],
          "mark": {"type": "text", "align": "center", "baseline": "middle"},
          "encoding": {
            "x": {"field": "x", "type": "quantitative"},
            "y": {"field": "y", "type": "quantitative"},
            "text": {"field": "text"}
          }
        },
        {
          "data": {"name": "tiltedLabels"},
          "transform": [{"filter": "datum.panel == 'c' && datum.text == '300'"}],
          "mark": {"type": "text", "align": "center", "baseline": "middle", "angle": 35, "stroke": "white", "strokeWidth": 6, "color": "white"},
          "encoding": {
            "x": {"field": "x", "type": "quantitative"},
            "y": {"field": "y", "type": "quantitative"},
            "text": {"field": "text"}
          }
        },
        {
          "data": {"name": "tiltedLabels"},
          "transform": [{"filter": "datum.panel == 'c' && datum.text == '300'"}],
          "mark": {"type": "text", "align": "center", "baseline": "middle", "angle": 35},
          "encoding": {
            "x": {"field": "x", "type": "quantitative"},
            "y": {"field": "y", "type": "quantitative"},
            "text": {"field": "text"}
          }
        },
        {
          "data": {"name": "titles"},
          "transform": [{"filter": "datum.panel == 'c'"}],
          "mark": {"type": "text", "align": "left", "baseline": "middle"},
          "encoding": {
            "x": {"field": "x", "type": "quantitative"},
            "y": {"field": "y", "type": "quantitative"},
            "text": {"field": "text"}
          }
        },
        {
          "data": {"name": "surfaceLabels"},
          "transform": [{"filter": "datum.panel == 'c'"}],
          "mark": {"type": "text", "align": "left", "baseline": "middle", "font": "Liberation Sans", "fontSize": 17.7},
          "encoding": {
            "x": {"field": "x", "type": "quantitative"},
            "y": {"field": "y", "type": "quantitative"},
            "text": {"field": "text"}
          }
        },
        {
          "data": {"name": "directionLabels"},
          "transform": [{"filter": "datum.panel == 'c'"}],
          "mark": {"type": "text", "align": "center", "baseline": "middle", "font": "Liberation Sans", "fontSize": 17.7},
          "encoding": {
            "x": {"field": "x", "type": "quantitative"},
            "y": {"field": "y", "type": "quantitative"},
            "text": {"field": "text"}
          }
        }
      ]
    },
    {
      "width": 367,
      "height": 280,
      "layer": [
        {
          "data": {"name": "curves"},
          "transform": [{"filter": "datum.panel == 'd'"}],
          "mark": {"type": "line", "color": "black", "strokeWidth": 3, "interpolate": "monotone", "clip": true},
          "encoding": {
            "x": {"field": "x", "type": "quantitative", "scale": {"domain": [0, 313], "nice": false, "zero": false},
                  "axis": {"orient": "bottom", "values": [0, 50, 100, 150, 200, 250, 300], "title": "X μm"}},
            "y": {"field": "y", "type": "quantitative", "scale": {"domain": [-240, 0], "nice": false, "zero": false}, "axis": null},
            "detail": {"field": "curve"}
          }
        },
        {
          "data": {"name": "xTicks"},
          "transform": [{"filter": "datum.panel == 'd'"}],
          "mark": {"type": "tick", "orient": "vertical", "clip": true},
          "encoding": {"x": {"field": "v", "type": "quantitative"}, "y": {"datum": 0, "type": "quantitative", "axis": null}}
        },
        {
          "data": {"name": "xTicks"},
          "transform": [{"filter": "datum.panel == 'd'"}],
          "mark": {"type": "tick", "orient": "vertical", "clip": true},
          "encoding": {"x": {"field": "v", "type": "quantitative"}, "y": {"datum": -240, "type": "quantitative", "axis": null}}
        },
        {
          "data": {"name": "yTicks"},
          "transform": [{"filter": "datum.panel == 'd'"}],
          "mark": {"type": "tick", "orient": "horizontal", "clip": true},
          "encoding": {"y": {"field": "v", "type": "quantitative", "axis": null}, "x": {"datum": 0, "type": "quantitative"}}
        },
        {
          "data": {"name": "yTicks"},
          "transform": [{"filter": "datum.panel == 'd'"}],
          "mark": {"type": "tick", "orient": "horizontal", "clip": true},
          "encoding": {"y": {"field": "v", "type": "quantitative", "axis": null}, "x": {"datum": 313, "type": "quantitative"}}
        },
        {
          "data": {"name": "guides"},
          "transform": [{"filter": "datum.panel == 'd'"}],
          "mark": {"type": "rule", "color": "black", "strokeWidth": 1.3},
          "encoding": {
            "x": {"field": "x", "type": "quantitative"},
            "y": {"field": "y", "type": "quantitative", "axis": null},
            "y2": {"field": "y2"}
          }
        },
        {
          "data": {"name": "arrows"},
          "transform": [{"filter": "datum.panel == 'd'"}],
          "mark": {"type": "rule", "color": "black", "strokeWidth": 2},
          "encoding": {
            "x": {"field": "x", "type": "quantitative"},
            "x2": {"field": "x2"},
            "y": {"field": "y", "type": "quantitative", "axis": null}
          }
        },
        {
          "data": {"name": "arrows"},
          "transform": [{"filter": "datum.panel == 'd'"}],
          "mark": {"type": "point", "shape": "triangle-left", "filled": true, "color": "black", "size": 70, "opacity": 1, "xOffset": 4},
          "encoding": {
            "x": {"field": "x", "type": "quantitative"},
            "y": {"field": "y", "type": "quantitative", "axis": null}
          }
        },
        {
          "data": {"name": "arrows"},
          "transform": [{"filter": "datum.panel == 'd'"}],
          "mark": {"type": "point", "shape": "triangle-right", "filled": true, "color": "black", "size": 70, "opacity": 1, "xOffset": -4},
          "encoding": {
            "x": {"field": "x2", "type": "quantitative"},
            "y": {"field": "y", "type": "quantitative", "axis": null}
          }
        },
        {
          "data": {"name": "pointers"},
          "transform": [{"filter": "datum.panel == 'd'"}],
          "mark": {"type": "rule", "color": "black", "strokeWidth": 2},
          "encoding": {
            "x": {"field": "x", "type": "quantitative"},
            "y": {"field": "y", "type": "quantitative", "axis": null},
            "x2": {"field": "x2"},
            "y2": {"field": "y2"}
          }
        },
        {
          "data": {"name": "pointers"},
          "transform": [{"filter": "datum.panel == 'd'"}],
          "mark": {"type": "point", "shape": "triangle-right", "filled": true, "color": "black", "size": 70, "opacity": 1, "angle": -17},
          "encoding": {
            "x": {"field": "x2", "type": "quantitative"},
            "y": {"field": "y2", "type": "quantitative", "axis": null}
          }
        },
        {
          "data": {"name": "contourLabels"},
          "transform": [{"filter": "datum.panel == 'd'"}],
          "mark": {"type": "text", "align": "center", "baseline": "middle", "stroke": "white", "strokeWidth": 6, "color": "white"},
          "encoding": {
            "x": {"field": "x", "type": "quantitative"},
            "y": {"field": "y", "type": "quantitative", "axis": null},
            "text": {"field": "text"}
          }
        },
        {
          "data": {"name": "contourLabels"},
          "transform": [{"filter": "datum.panel == 'd'"}],
          "mark": {"type": "text", "align": "center", "baseline": "middle"},
          "encoding": {
            "x": {"field": "x", "type": "quantitative"},
            "y": {"field": "y", "type": "quantitative", "axis": null},
            "text": {"field": "text"}
          }
        },
        {
          "data": {"name": "tiltedLabels"},
          "transform": [{"filter": "datum.panel == 'd' && datum.text == '450'"}],
          "mark": {"type": "text", "align": "center", "baseline": "middle", "angle": -10, "stroke": "white", "strokeWidth": 6, "color": "white"},
          "encoding": {
            "x": {"field": "x", "type": "quantitative"},
            "y": {"field": "y", "type": "quantitative", "axis": null},
            "text": {"field": "text"}
          }
        },
        {
          "data": {"name": "tiltedLabels"},
          "transform": [{"filter": "datum.panel == 'd' && datum.text == '450'"}],
          "mark": {"type": "text", "align": "center", "baseline": "middle", "angle": -10},
          "encoding": {
            "x": {"field": "x", "type": "quantitative"},
            "y": {"field": "y", "type": "quantitative", "axis": null},
            "text": {"field": "text"}
          }
        },
        {
          "data": {"name": "tiltedLabels"},
          "transform": [{"filter": "datum.panel == 'd' && datum.text == '350'"}],
          "mark": {"type": "text", "align": "center", "baseline": "middle", "angle": -38, "stroke": "white", "strokeWidth": 6, "color": "white"},
          "encoding": {
            "x": {"field": "x", "type": "quantitative"},
            "y": {"field": "y", "type": "quantitative", "axis": null},
            "text": {"field": "text"}
          }
        },
        {
          "data": {"name": "tiltedLabels"},
          "transform": [{"filter": "datum.panel == 'd' && datum.text == '350'"}],
          "mark": {"type": "text", "align": "center", "baseline": "middle", "angle": -38},
          "encoding": {
            "x": {"field": "x", "type": "quantitative"},
            "y": {"field": "y", "type": "quantitative", "axis": null},
            "text": {"field": "text"}
          }
        },
        {
          "data": {"name": "titles"},
          "transform": [{"filter": "datum.panel == 'd'"}],
          "mark": {"type": "text", "align": "left", "baseline": "middle"},
          "encoding": {
            "x": {"field": "x", "type": "quantitative"},
            "y": {"field": "y", "type": "quantitative", "axis": null},
            "text": {"field": "text"}
          }
        },
        {
          "data": {"name": "surfaceLabels"},
          "transform": [{"filter": "datum.panel == 'd'"}],
          "mark": {"type": "text", "align": "left", "baseline": "middle", "font": "Liberation Sans", "fontSize": 17.7},
          "encoding": {
            "x": {"field": "x", "type": "quantitative"},
            "y": {"field": "y", "type": "quantitative", "axis": null},
            "text": {"field": "text"}
          }
        },
        {
          "data": {"name": "directionLabels"},
          "transform": [{"filter": "datum.panel == 'd'"}],
          "mark": {"type": "text", "align": "center", "baseline": "middle", "font": "Liberation Sans", "fontSize": 17.7},
          "encoding": {
            "x": {"field": "x", "type": "quantitative"},
            "y": {"field": "y", "type": "quantitative", "axis": null},
            "text": {"field": "text"}
          }
        }
      ]
    }
  ]
}
